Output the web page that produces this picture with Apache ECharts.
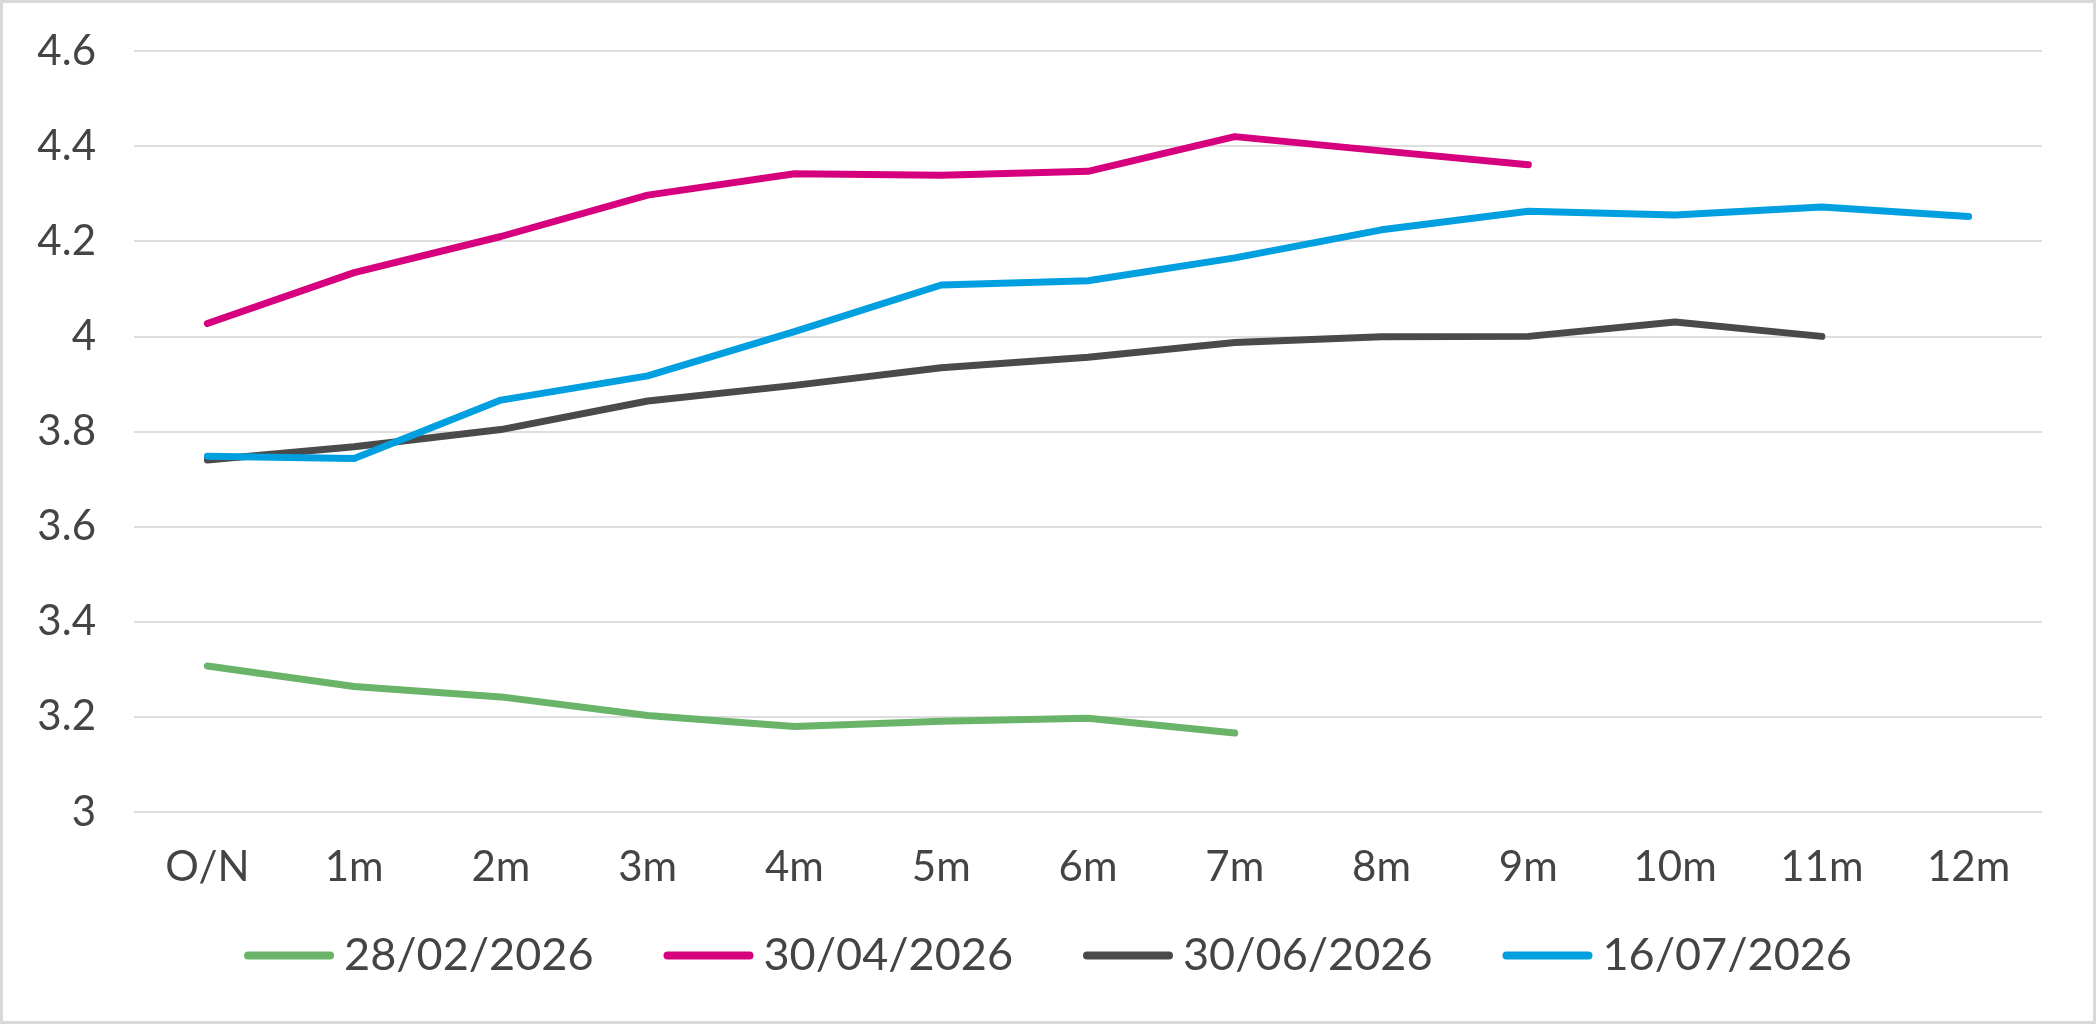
<!DOCTYPE html>
<html>
<head>
<meta charset="utf-8">
<script src="https://cdn.jsdelivr.net/npm/echarts@6/dist/echarts.min.js"></script>
<style>
html,body{margin:0;padding:0;background:#fff;}
#wrap{width:2096px;height:1024px;box-sizing:border-box;border:3px solid #d9d9d9;background:#fff;}
#chart{width:100%;height:100%;}
</style>
</head>
<body>
<div id="wrap"><div id="chart"></div></div>
<script>
const categories = ['O/N','1m','2m','3m','4m','5m','6m','7m','8m','9m','10m','11m','12m'];
const seriesNames = ['28/02/2026','30/04/2026','30/06/2026','16/07/2026'];
const s28Feb = [3.307, 3.264, 3.242, 3.203, 3.180, 3.191, 3.197, 3.166, null, null, null, null, null];
const s30Apr = [4.027, 4.134, 4.210, 4.297, 4.342, 4.339, 4.347, 4.420, 4.390, 4.361, null, null, null];
const s30Jun = [3.740, 3.768, 3.804, 3.864, 3.897, 3.934, 3.956, 3.987, 3.999, 4.000, 4.030, 4.000, null];
const s16Jul = [3.748, 3.743, 3.866, 3.917, 4.010, 4.108, 4.117, 4.165, 4.224, 4.263, 4.255, 4.272, 4.252];
const yTicks = {min: 3, max: 4.6, interval: 0.2};
const colors = ['#6ab46a','#d6007e','#4a4a4a','#009fe0'];

const chart = echarts.init(document.getElementById('chart'));
const textColor = '#444444';
const font = 'Lato';
const pill = 'path://M4,0 L86,0 A4,4 0 0 1 86,8 L4,8 A4,4 0 0 1 4,0 Z';
const data = [s28Feb, s30Apr, s30Jun, s16Jul];
chart.setOption({
  animation: false,
  color: colors,
  grid: {left: 131, right: 51, top: 48, bottom: 209, containLabel: false},
  xAxis: {
    type: 'category',
    data: categories,
    boundaryGap: true,
    axisLine: {show: false},
    axisTick: {show: false},
    axisLabel: {color: textColor, fontSize: 42, fontFamily: font, margin: 34}
  },
  yAxis: {
    type: 'value',
    min: yTicks.min, max: yTicks.max, interval: yTicks.interval,
    axisLine: {show: false},
    axisTick: {show: false},
    axisLabel: {color: textColor, fontSize: 42, fontFamily: font, margin: 38,
      formatter: v => String(Math.round(v * 10) / 10)},
    splitLine: {lineStyle: {color: '#dedede', width: 2}}
  },
  legend: {
    bottom: 38,
    left: 'center',
    icon: pill,
    itemWidth: 90,
    itemHeight: 8,
    itemGap: 70,
    textStyle: {color: textColor, fontSize: 45, fontFamily: font, padding: [0,0,0,5]},
    data: seriesNames
  },
  series: seriesNames.map((n, i) => ({
    name: n,
    type: 'line',
    data: data[i],
    symbol: 'none',
    connectNulls: false,
    lineStyle: {width: 7, cap: 'round', join: 'round', color: colors[i]},
    itemStyle: {color: colors[i]}
  }))
});
</script>
</body>
</html>
